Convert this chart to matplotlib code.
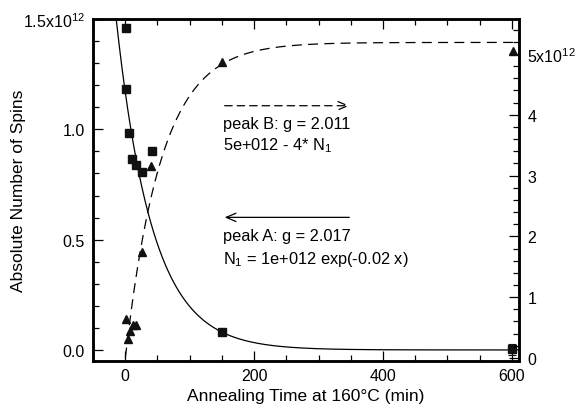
import numpy as np
import matplotlib
matplotlib.use('Agg')
import matplotlib.pyplot as plt
from matplotlib.ticker import MultipleLocator, FixedLocator, FixedFormatter

plt.rcParams['font.family'] = ['Liberation Sans', 'DejaVu Sans']
plt.rcParams['mathtext.fontset'] = 'custom'
plt.rcParams['mathtext.rm'] = 'Liberation Sans'
plt.rcParams['mathtext.it'] = 'Liberation Sans'

# peak A (left axis), squares
time_a = [1, 2, 6, 10, 16, 26, 41, 150, 600]
spins_a = [1.458e12, 1.183e12, 0.985e12, 0.866e12, 0.839e12, 0.805e12, 0.903e12, 0.083e12, 0.003e12]
err_a = [0, 0, 0, 0, 0, 0, 0, 0, 0.025e12]

# peak B (right axis), triangles
time_b = [0.5, 3.6, 6.7, 12, 17, 26, 40, 150, 602]
spins_b = [0.64e12, 0.31e12, 0.45e12, 0.54e12, 0.54e12, 1.75e12, 3.16e12, 4.86e12, 5.05e12]

# fit parameters
fit_a_amp = 1.17e12
fit_rate = 0.0178
fit_b_top = 5.19e12
fit_b_scale = 4.45

left_ticks = [0.0, 0.5e12, 1.0e12, 1.5e12]
left_labels = ['0.0', '0.5', '1.0', '1.5x10$^{12}$']
right_ticks = [0, 1e12, 2e12, 3e12, 4e12, 5e12]
right_labels = ['0', '1', '2', '3', '4', '5x10$^{12}$']
x_ticks = [0, 200, 400, 600]

t = np.linspace(-50, 610, 600)
n1 = fit_a_amp * np.exp(-fit_rate * t)
nb = fit_b_top - fit_b_scale * n1

fig = plt.figure(figsize=(5.75, 4.06), dpi=100)
ax = fig.add_axes([0.1617, 0.1084, 0.7409, 0.8423])
ax2 = ax.twinx()

ax.plot(t, n1, color='black', lw=0.9)
ax.errorbar(time_a, spins_a, yerr=err_a, fmt='s', color='#111111', ms=6,
            capsize=3, elinewidth=0.8, capthick=0.8)
ax2.plot(t, nb, color='black', lw=0.9, dashes=(8, 5))
ax2.plot(time_b, spins_b, '^', color='#111111', ms=6)

ax.set_xlim(-50, 611)
ax.set_ylim(-0.05e12, 1.5e12)
ax2.set_ylim(-0.05e12, 5.575e12)

ax.xaxis.set_major_locator(FixedLocator(x_ticks))
ax.xaxis.set_minor_locator(MultipleLocator(50))
ax.yaxis.set_major_locator(FixedLocator(left_ticks))
ax.yaxis.set_major_formatter(FixedFormatter(left_labels))
ax.yaxis.set_minor_locator(MultipleLocator(0.1e12))
ax2.yaxis.set_major_locator(FixedLocator(right_ticks))
ax2.yaxis.set_major_formatter(FixedFormatter(right_labels))
ax2.yaxis.set_minor_locator(MultipleLocator(0.2e12))

ax.tick_params(axis='x', which='both', direction='in', top=True, labelsize=11.5, pad=5)
ax.tick_params(axis='y', which='both', direction='in', left=True, right=False, labelsize=11.5, pad=6)
ax2.tick_params(axis='y', which='both', direction='in', labelsize=11.5, pad=6)
for a in (ax, ax2):
    a.tick_params(which='major', length=7, width=0.9)
    a.tick_params(which='minor', length=4, width=0.9)
    for s in a.spines.values():
        s.set_linewidth(1.8)

ax.set_xlabel('Annealing Time at 160\u00b0C (min)', fontsize=12.5, labelpad=4)
ax.set_ylabel('Absolute Number of Spins', fontsize=12.5)
ax.yaxis.set_label_coords(-0.158, 0.5)

head = '->,head_length=0.7,head_width=0.3'
ax.annotate('', xy=(352, 1.107e12), xytext=(150, 1.107e12),
            arrowprops=dict(arrowstyle=head, lw=0.9, linestyle=(0, (6, 4)), color='black'))
ax.text(151, 1.025e12, 'peak B: g = 2.011', fontsize=11.8, va='center')
ax.text(151, 0.929e12, '5e+012 - 4* N$_1$', fontsize=11.8, va='center')
ax.annotate('', xy=(150, 0.601e12), xytext=(352, 0.601e12),
            arrowprops=dict(arrowstyle=head, lw=0.9, color='black'))
ax.text(151, 0.521e12, 'peak A: g = 2.017', fontsize=11.8, va='center')
ax.text(151, 0.416e12, 'N$_1$ = 1e+012 exp(-0.02 x)', fontsize=11.8, va='center')

fig.savefig('out.png', dpi=100)
